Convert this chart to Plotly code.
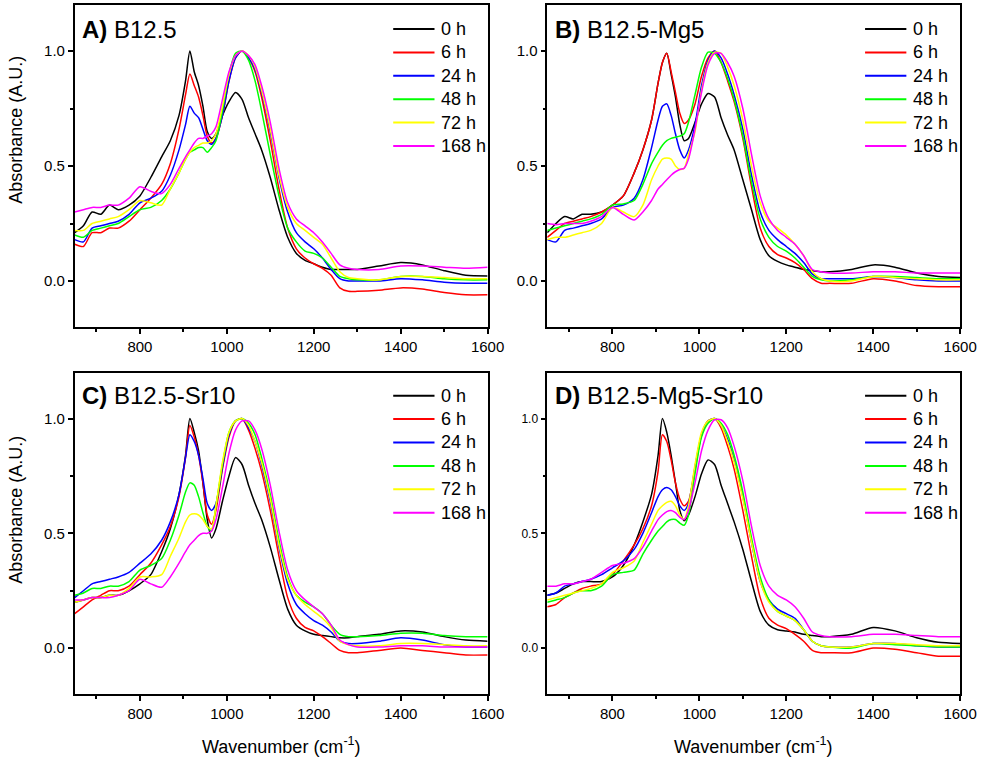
import plotly.graph_objects as go

# ---------------- data ----------------
WAVENUMBER = [650, 670, 690, 710, 730, 750,
              775, 800, 825, 850, 870, 890,
              905, 915, 925, 935, 945, 955, 965, 975,
              990, 1005, 1020, 1035, 1050, 1065, 1080,
              1100, 1120, 1140, 1160, 1180, 1200, 1220, 1240, 1260, 1280, 1300,
              1350, 1400, 1450, 1500, 1550, 1600]

SERIES_NAMES = ["0 h", "6 h", "24 h", "48 h", "72 h", "168 h"]
SERIES_COLORS = ["#000000", "#FF0000", "#0000FF", "#00FF00", "#FFFF00", "#FF00FF"]

PANEL_LABELS = ["A)", "B)", "C)", "D)"]
PANEL_NAMES = ["B12.5", "B12.5-Mg5", "B12.5-Sr10", "B12.5-Mg5-Sr10"]

X_TICKS = [800, 1000, 1200, 1400, 1600]
Y_TICKS = [0.0, 0.5, 1.0]

# Panel A: B12.5
A_0H = [0.21, 0.24, 0.30, 0.29, 0.33, 0.31,
        0.33, 0.37, 0.45, 0.54, 0.61, 0.72,
        0.87, 1.00, 0.91, 0.85, 0.76, 0.65, 0.62, 0.64,
        0.72, 0.78, 0.82, 0.79, 0.71, 0.64, 0.57,
        0.45, 0.31, 0.19, 0.12, 0.09, 0.075, 0.06, 0.05, 0.05, 0.05, 0.05,
        0.065, 0.08, 0.07, 0.045, 0.025, 0.022]
A_6H = [0.16, 0.15, 0.21, 0.21, 0.23, 0.23,
        0.26, 0.31, 0.36, 0.42, 0.51, 0.66,
        0.81, 0.90, 0.85, 0.80, 0.72, 0.63, 0.60, 0.62,
        0.72, 0.87, 0.97, 1.00, 0.97, 0.91, 0.80,
        0.61, 0.40, 0.23, 0.14, 0.10, 0.075, 0.055, 0.025, -0.03, -0.045, -0.045,
        -0.04, -0.03, -0.035, -0.05, -0.06, -0.06]
A_24H = [0.18, 0.17, 0.23, 0.24, 0.25, 0.26,
         0.29, 0.34, 0.36, 0.39, 0.46, 0.57,
         0.68, 0.76, 0.73, 0.71, 0.66, 0.61, 0.595, 0.62,
         0.72, 0.87, 0.97, 1.00, 0.97, 0.92, 0.82,
         0.65, 0.45, 0.30, 0.21, 0.17, 0.14, 0.10, 0.05, 0.01, 0.0, 0.0,
         0.0, 0.01, 0.005, -0.005, -0.01, -0.01]
A_48H = [0.20, 0.19, 0.22, 0.23, 0.24, 0.25,
         0.28, 0.31, 0.32, 0.35, 0.40, 0.47,
         0.53, 0.56, 0.57, 0.58, 0.58, 0.56, 0.58, 0.61,
         0.74, 0.90, 0.99, 1.00, 0.96, 0.87, 0.74,
         0.55, 0.37, 0.23, 0.17, 0.13, 0.12, 0.10, 0.06, 0.02, 0.01, 0.005,
         0.005, 0.02, 0.02, 0.01, 0.005, 0.005]
A_72H = [0.22, 0.22, 0.25, 0.26, 0.27, 0.28,
         0.31, 0.35, 0.34, 0.33, 0.40, 0.47,
         0.53, 0.56, 0.58, 0.59, 0.60, 0.60, 0.61, 0.64,
         0.76, 0.90, 0.98, 1.00, 0.98, 0.93, 0.83,
         0.66, 0.46, 0.32, 0.25, 0.22, 0.19, 0.16, 0.10, 0.04, 0.015, 0.01,
         0.005, 0.02, 0.02, 0.015, 0.01, 0.01]
A_168H = [0.30, 0.31, 0.32, 0.32, 0.33, 0.33,
          0.36, 0.41, 0.39, 0.38, 0.42, 0.49,
          0.54, 0.57, 0.60, 0.62, 0.62, 0.63, 0.64, 0.67,
          0.79, 0.91, 0.98, 1.00, 0.98, 0.94, 0.85,
          0.69, 0.49, 0.34, 0.27, 0.24, 0.21, 0.17, 0.12, 0.07, 0.055, 0.05,
          0.05, 0.065, 0.065, 0.06, 0.055, 0.06]

# Panel B: B12.5-Mg5
B_0H = [0.21, 0.25, 0.28, 0.27, 0.29, 0.29,
        0.30, 0.33, 0.37, 0.47, 0.57, 0.70,
        0.86, 0.95, 0.99, 0.90, 0.80, 0.68, 0.61, 0.62,
        0.69, 0.77, 0.815, 0.80, 0.71, 0.635, 0.57,
        0.44, 0.31, 0.18, 0.11, 0.085, 0.07, 0.06, 0.05, 0.045, 0.04, 0.04,
        0.05, 0.07, 0.06, 0.035, 0.02, 0.015]
B_6H = [0.19, 0.22, 0.25, 0.26, 0.27, 0.28,
        0.30, 0.33, 0.37, 0.47, 0.57, 0.70,
        0.86, 0.95, 0.99, 0.91, 0.82, 0.73, 0.685, 0.70,
        0.77, 0.89, 0.97, 1.00, 0.95, 0.87, 0.78,
        0.62, 0.41, 0.23, 0.15, 0.115, 0.10, 0.08, 0.05, 0.01, -0.01, -0.01,
        -0.01, 0.01, 0.0, -0.02, -0.025, -0.025]
B_24H = [0.18, 0.17, 0.22, 0.23, 0.24, 0.25,
         0.27, 0.32, 0.33, 0.36, 0.44, 0.58,
         0.70, 0.76, 0.77, 0.72, 0.64, 0.57, 0.535, 0.57,
         0.68, 0.85, 0.96, 1.00, 0.97, 0.90, 0.81,
         0.66, 0.46, 0.30, 0.22, 0.18, 0.15, 0.12, 0.08, 0.03, 0.01, 0.01,
         0.01, 0.02, 0.015, 0.005, 0.0, 0.0]
B_48H = [0.22, 0.23, 0.24, 0.25, 0.26, 0.27,
         0.29, 0.33, 0.335, 0.35, 0.42, 0.51,
         0.56, 0.59, 0.61, 0.62, 0.625, 0.63, 0.64, 0.69,
         0.81, 0.93, 0.995, 0.99, 0.95, 0.88, 0.79,
         0.63, 0.43, 0.27, 0.19, 0.15, 0.13, 0.10, 0.06, 0.02, 0.005, 0.0,
         0.005, 0.02, 0.02, 0.015, 0.01, 0.01]
B_72H = [0.18, 0.19, 0.19, 0.20, 0.21, 0.22,
         0.25, 0.32, 0.30, 0.28, 0.33, 0.44,
         0.50, 0.53, 0.535, 0.53, 0.50, 0.485, 0.49, 0.55,
         0.65, 0.83, 0.95, 0.995, 0.99, 0.93, 0.85,
         0.70, 0.50, 0.34, 0.26, 0.23, 0.20, 0.16, 0.11, 0.04, 0.01, 0.0,
         0.0, 0.02, 0.015, 0.01, 0.005, 0.005]
B_168H = [0.25, 0.245, 0.25, 0.25, 0.25, 0.26,
          0.28, 0.32, 0.29, 0.265, 0.30, 0.35,
          0.40, 0.42, 0.44, 0.46, 0.475, 0.485, 0.49, 0.53,
          0.66, 0.82, 0.94, 0.99, 0.99, 0.95, 0.89,
          0.75, 0.55, 0.37, 0.27, 0.22, 0.19, 0.16, 0.11, 0.05, 0.04, 0.035,
          0.035, 0.04, 0.04, 0.035, 0.035, 0.035]

# Panel C: B12.5-Sr10
C_0H = [0.20, 0.21, 0.22, 0.22, 0.23, 0.23,
        0.25, 0.28, 0.32, 0.42, 0.52, 0.67,
        0.84, 1.00, 0.94, 0.86, 0.72, 0.56, 0.48, 0.52,
        0.64, 0.75, 0.83, 0.80, 0.71, 0.63, 0.56,
        0.44, 0.30, 0.17, 0.10, 0.075, 0.06, 0.055, 0.05, 0.045, 0.045, 0.05,
        0.06, 0.075, 0.07, 0.05, 0.035, 0.03]
C_6H = [0.15, 0.18, 0.21, 0.23, 0.25, 0.25,
        0.27, 0.32, 0.37, 0.45, 0.53, 0.66,
        0.83, 0.97, 0.92, 0.84, 0.72, 0.58, 0.54, 0.60,
        0.78, 0.92, 0.99, 1.00, 0.95, 0.87, 0.77,
        0.60, 0.40, 0.22, 0.13, 0.09, 0.075, 0.05, 0.02, -0.01, -0.02, -0.02,
        -0.01, 0.0, -0.01, -0.02, -0.03, -0.03]
C_24H = [0.22, 0.25, 0.28, 0.29, 0.30, 0.31,
         0.33, 0.37, 0.41, 0.47, 0.55, 0.67,
         0.83, 0.93, 0.90, 0.84, 0.74, 0.63, 0.60, 0.63,
         0.79, 0.93, 0.99, 1.00, 0.96, 0.90, 0.80,
         0.64, 0.44, 0.28, 0.19, 0.15, 0.12, 0.10, 0.07, 0.03, 0.02, 0.02,
         0.03, 0.045, 0.035, 0.015, 0.005, 0.005]
C_48H = [0.23, 0.24, 0.26, 0.26, 0.27, 0.27,
         0.29, 0.34, 0.36, 0.39, 0.47, 0.58,
         0.68, 0.72, 0.71, 0.66, 0.59, 0.53, 0.51, 0.62,
         0.80, 0.94, 0.99, 1.00, 0.98, 0.93, 0.83,
         0.67, 0.47, 0.31, 0.23, 0.20, 0.18, 0.15, 0.10, 0.06, 0.05, 0.05,
         0.055, 0.065, 0.065, 0.055, 0.05, 0.05]
C_72H = [0.20, 0.21, 0.22, 0.22, 0.23, 0.23,
         0.26, 0.31, 0.31, 0.32, 0.40, 0.48,
         0.55, 0.58, 0.585, 0.58, 0.56, 0.53, 0.52, 0.62,
         0.81, 0.94, 0.99, 1.00, 0.97, 0.90, 0.81,
         0.65, 0.45, 0.30, 0.23, 0.19, 0.16, 0.13, 0.09, 0.03, 0.015, 0.01,
         0.01, 0.02, 0.02, 0.015, 0.01, 0.01]
C_168H = [0.21, 0.21, 0.22, 0.22, 0.22, 0.23,
          0.25, 0.30, 0.28, 0.265, 0.31, 0.37,
          0.42, 0.45, 0.47, 0.49, 0.50, 0.50, 0.51, 0.56,
          0.70, 0.85, 0.95, 0.99, 0.99, 0.95, 0.87,
          0.71, 0.51, 0.34, 0.25, 0.21, 0.18, 0.15, 0.10, 0.035, 0.015, 0.005,
          0.005, 0.01, 0.01, 0.005, 0.005, 0.005]

# Panel D: B12.5-Mg5-Sr10
D_0H = [0.23, 0.24, 0.26, 0.28, 0.29, 0.29,
        0.29, 0.31, 0.36, 0.45, 0.55, 0.67,
        0.84, 1.00, 0.94, 0.84, 0.72, 0.60, 0.555, 0.58,
        0.66, 0.76, 0.82, 0.80, 0.71, 0.63, 0.55,
        0.43, 0.29, 0.16, 0.10, 0.08, 0.075, 0.07, 0.06, 0.055, 0.05, 0.05,
        0.06, 0.09, 0.075, 0.045, 0.025, 0.02]
D_6H = [0.18, 0.19, 0.22, 0.24, 0.26, 0.27,
        0.28, 0.32, 0.38, 0.45, 0.52, 0.62,
        0.77, 0.93, 0.90, 0.82, 0.72, 0.65, 0.62, 0.64,
        0.78, 0.93, 0.99, 1.00, 0.96, 0.88, 0.78,
        0.60, 0.40, 0.22, 0.13, 0.10, 0.085, 0.06, 0.03, -0.01, -0.02, -0.02,
        -0.02, 0.0, -0.005, -0.02, -0.035, -0.035]
D_24H = [0.23, 0.24, 0.27, 0.28, 0.29, 0.30,
         0.32, 0.35, 0.38, 0.43, 0.50, 0.59,
         0.66, 0.69, 0.70, 0.69, 0.66, 0.62, 0.60, 0.63,
         0.79, 0.93, 0.99, 1.00, 0.97, 0.91, 0.82,
         0.66, 0.46, 0.29, 0.21, 0.17, 0.15, 0.13, 0.08, 0.03, 0.01, 0.005,
         0.005, 0.02, 0.02, 0.01, 0.005, 0.005]
D_48H = [0.20, 0.21, 0.22, 0.24, 0.25, 0.25,
         0.27, 0.32, 0.33, 0.34, 0.41, 0.47,
         0.51, 0.53, 0.55, 0.56, 0.56, 0.545, 0.535, 0.58,
         0.76, 0.92, 0.98, 1.00, 0.98, 0.93, 0.84,
         0.68, 0.48, 0.31, 0.21, 0.16, 0.14, 0.12, 0.08, 0.03, 0.01, 0.005,
         0.0, 0.02, 0.015, 0.01, 0.005, 0.005]
D_72H = [0.21, 0.22, 0.23, 0.24, 0.25, 0.26,
         0.28, 0.33, 0.35, 0.38, 0.46, 0.54,
         0.60, 0.62, 0.635, 0.64, 0.62, 0.58, 0.56, 0.62,
         0.80, 0.94, 0.99, 1.00, 0.97, 0.90, 0.81,
         0.65, 0.46, 0.29, 0.20, 0.16, 0.14, 0.12, 0.08, 0.03, 0.01, 0.005,
         0.005, 0.02, 0.02, 0.015, 0.01, 0.01]
D_168H = [0.27, 0.27, 0.28, 0.28, 0.29, 0.30,
          0.33, 0.36, 0.37, 0.39, 0.44, 0.51,
          0.56, 0.58, 0.595, 0.60, 0.59, 0.57, 0.56, 0.60,
          0.72, 0.86, 0.95, 0.995, 0.995, 0.96, 0.88,
          0.73, 0.53, 0.36, 0.27, 0.23, 0.21, 0.18, 0.13, 0.07, 0.055, 0.05,
          0.05, 0.06, 0.06, 0.055, 0.05, 0.05]

PANELS = [
    [A_0H, A_6H, A_24H, A_48H, A_72H, A_168H],
    [B_0H, B_6H, B_24H, B_48H, B_72H, B_168H],
    [C_0H, C_6H, C_24H, C_48H, C_72H, C_168H],
    [D_0H, D_6H, D_24H, D_48H, D_72H, D_168H],
]

# ---------------- layout geometry ----------------
W, H = 1002, 757
FONT = "Liberation Sans, Arial, Helvetica, sans-serif"


def px_x(p):
    return p / W


def px_y(p):
    return 1 - p / H


X_DOMAINS = [[px_x(76), px_x(496)], [px_x(556.7), px_x(976.7)]]
Y_DOMAINS = [[px_y(327), px_y(5)], [px_y(694), px_y(372.7)]]

fig = go.Figure()

for p, series in enumerate(PANELS):
    axn = "" if p == 0 else str(p + 1)
    for name, color, values in zip(SERIES_NAMES, SERIES_COLORS, series):
        assert len(values) == len(WAVENUMBER)
        fig.add_trace(go.Scatter(
            x=WAVENUMBER, y=values, name=name, mode="lines",
            line=dict(color=color, width=1.5, shape="spline", smoothing=0.7),
            xaxis="x" + axn, yaxis="y" + axn, showlegend=False,
        ))

layout = dict(
    width=W, height=H,
    margin=dict(l=0, r=0, t=0, b=0),
    paper_bgcolor="white", plot_bgcolor="white",
    font=dict(family=FONT, color="black"),
    showlegend=False,
)

for p in range(4):
    col, row = p % 2, p // 2
    axn = "" if p == 0 else str(p + 1)
    ytick_size = 12 if p == 3 else 15
    layout["xaxis" + axn] = dict(
        domain=X_DOMAINS[col], anchor="y" + axn, range=[650, 1600],
        tickmode="array", tickvals=X_TICKS, ticktext=[str(v) for v in X_TICKS],
        ticks="outside", ticklen=5, tickwidth=1.5, tickcolor="black",
        minor=dict(tickmode="linear", tick0=700, dtick=200, ticks="outside",
                   ticklen=3, tickwidth=1.5, tickcolor="black"),
        showline=True, linewidth=1.5, linecolor="black", mirror=True,
        showgrid=False, zeroline=False,
        tickfont=dict(size=15, family=FONT, color="black"),
    )
    layout["yaxis" + axn] = dict(
        domain=Y_DOMAINS[row], anchor="x" + axn, range=[-0.2, 1.2],
        tickmode="array", tickvals=Y_TICKS, ticktext=["%.1f" % v for v in Y_TICKS],
        ticks="outside", ticklen=5, tickwidth=1.5, tickcolor="black",
        minor=dict(tickmode="array", tickvals=[0.25, 0.75], ticks="outside",
                   ticklen=3, tickwidth=1.5, tickcolor="black"),
        showline=True, linewidth=1.5, linecolor="black", mirror=True,
        showgrid=False, zeroline=False,
        tickfont=dict(size=ytick_size, family=FONT, color="black"),
    )

annotations = []
shapes = []

# panel titles
title_x = [81, 562.5]
title_y = [29, 395]
for p in range(4):
    col, row = p % 2, p // 2
    annotations.append(dict(
        xref="paper", yref="paper", x=px_x(title_x[col]), y=px_y(title_y[row]),
        xanchor="left", yanchor="middle", showarrow=False,
        text="<b>%s</b> %s" % (PANEL_LABELS[p], PANEL_NAMES[p]),
        font=dict(size=24, family=FONT, color="black"),
    ))

# per-panel legends (line sample + label)
LEG_LINE_X = [(400, 442), (880, 922)]
LEG_TEXT_X = [447, 927]
LEG_ROW0 = [29, 395.7]
LEG_STEP = 23.4
for p in range(4):
    col, row = p % 2, p // 2
    for i, (name, color) in enumerate(zip(SERIES_NAMES, SERIES_COLORS)):
        yc = LEG_ROW0[row] + LEG_STEP * i
        x0, x1 = LEG_LINE_X[col]
        shapes.append(dict(
            type="line", xref="paper", yref="paper",
            x0=px_x(x0), x1=px_x(x1), y0=px_y(yc), y1=px_y(yc),
            line=dict(color=color, width=2),
        ))
        annotations.append(dict(
            xref="paper", yref="paper", x=px_x(LEG_TEXT_X[col]), y=px_y(yc),
            xanchor="left", yanchor="middle", showarrow=False,
            text=name, font=dict(size=18, family=FONT, color="black"),
        ))

for row, ycenter in enumerate([130, 510]):
    annotations.append(dict(
        xref="paper", yref="paper", x=px_x(16), y=px_y(ycenter),
        xanchor="center", yanchor="middle", showarrow=False, textangle=-90,
        text="Absorbance (A.U.)",
        font=dict(size=18, family=FONT, color="black"),
    ))

for col, xcenter in enumerate([286, 766.7]):
    annotations.append(dict(
        xref="paper", yref="paper", x=px_x(xcenter), y=px_y(745),
        xanchor="center", yanchor="middle", showarrow=False,
        text="Wavenumber (cm<sup>-1</sup>)",
        font=dict(size=18, family=FONT, color="black"),
    ))

layout["annotations"] = annotations
layout["shapes"] = shapes
fig.update_layout(**layout)

fig.write_html("out.html")
